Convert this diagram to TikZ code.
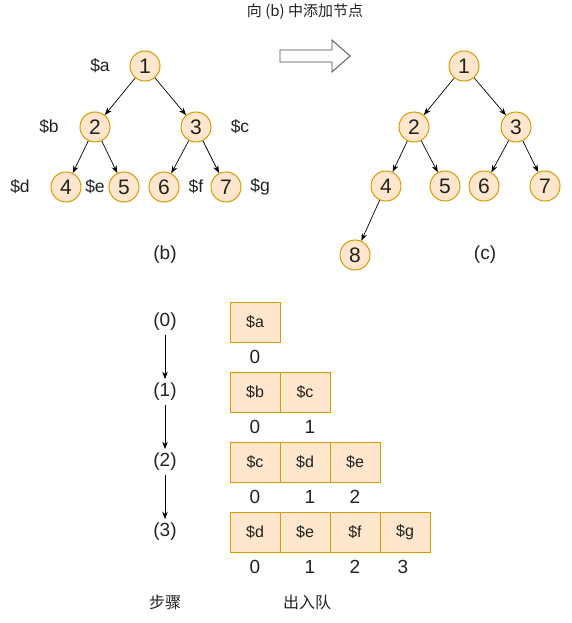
\documentclass[tikz,border=0pt]{standalone}
\usepackage{fontspec}
\setmainfont{Liberation Sans}
\newfontfamily\cjk{Noto Sans CJK SC}
\usetikzlibrary{arrows.meta,shapes.arrows}
\definecolor{nfill}{HTML}{FFE6CC}
\definecolor{nline}{HTML}{D79B00}
\definecolor{txt}{HTML}{222222}
\begin{document}
\begin{tikzpicture}[x=1pt,y=-1pt,
  tnode/.style={circle,draw=nline,fill=nfill,line width=1pt,minimum size=30pt,inner sep=0pt,font=\fontsize{21}{21}\selectfont,text=txt},
  lbl/.style={font=\fontsize{17.5}{17.5}\selectfont,text=txt,inner sep=0pt},
  captxt/.style={font=\fontsize{19}{19}\selectfont,text=txt,inner sep=0pt},
  stepl/.style={captxt,outer sep=4pt},
  qbox/.style={draw=nline,fill=nfill,line width=1pt,minimum width=50pt,minimum height=40pt,inner sep=0pt,font=\fontsize{16}{16}\selectfont,text=txt},
  idx/.style={font=\fontsize{19}{19}\selectfont,text=txt,inner sep=0pt},
  arr/.style={-{Stealth[length=7.5pt,width=5.5pt]},line width=0.7pt,black}]
\useasboundingbox (0,0) rectangle (572,623);
% title
\node[font=\cjk\fontsize{15}{15}\selectfont,text=txt] (title) at (305,12) {向 (b) 中添加节点};
% hollow arrow
\draw[line width=0.8pt,draw=black!70,fill=white] (280,50) -- (332,50) -- (332,40) -- (350,56) -- (332,72) -- (332,62) -- (280,62) -- cycle;
% tree (b)
\node[tnode] (b1) at (145,66) {1};
\node[tnode] (b2) at (95,127) {2};
\node[tnode] (b3) at (196,127) {3};
\node[tnode] (b4) at (66,187) {4};
\node[tnode] (b5) at (124,187) {5};
\node[tnode] (b6) at (164,187) {6};
\node[tnode] (b7) at (226,187) {7};
\draw[arr] (b1) -- (b2);
\draw[arr] (b1) -- (b3);
\draw[arr] (b2) -- (b4);
\draw[arr] (b2) -- (b5);
\draw[arr] (b3) -- (b6);
\draw[arr] (b3) -- (b7);
\node[lbl] (la) at (100,66) {\$a};
\node[lbl] (lb) at (49,127) {\$b};
\node[lbl] (lc) at (240,127) {\$c};
\node[lbl] (ld) at (20,187) {\$d};
\node[lbl] (le) at (95,187) {\$e};
\node[lbl] (lf) at (196,187) {\$f};
\node[lbl] (lg) at (260,187) {\$g};
\node[captxt] (capb) at (165,255) {(b)};
% tree (c)
\node[tnode] (c1) at (464,66) {1};
\node[tnode] (c2) at (414,127) {2};
\node[tnode] (c3) at (516,127) {3};
\node[tnode] (c4) at (386,186) {4};
\node[tnode] (c5) at (445,186) {5};
\node[tnode] (c6) at (484,186) {6};
\node[tnode] (c7) at (545,186) {7};
\node[tnode] (c8) at (355,255) {8};
\draw[arr] (c1) -- (c2);
\draw[arr] (c1) -- (c3);
\draw[arr] (c2) -- (c4);
\draw[arr] (c2) -- (c5);
\draw[arr] (c3) -- (c6);
\draw[arr] (c3) -- (c7);
\draw[arr] (c4) -- (c8);
\node[captxt] (capc) at (485,255) {(c)};
% steps
\node[stepl] (s0) at (165,322) {(0)};
\node[stepl] (s1) at (165,392) {(1)};
\node[stepl] (s2) at (165,462) {(2)};
\node[stepl] (s3) at (165,532) {(3)};
\draw[arr] (s0) -- (s1);
\draw[arr] (s1) -- (s2);
\draw[arr] (s2) -- (s3);
% queues
\node[qbox] (q00) at (255,322) {\$a};
\node[qbox] (q10) at (255,392) {\$b};
\node[qbox] (q11) at (305,392) {\$c};
\node[qbox] (q20) at (255,462) {\$c};
\node[qbox] (q21) at (305,462) {\$d};
\node[qbox] (q22) at (355,462) {\$e};
\node[qbox] (q30) at (255,532) {\$d};
\node[qbox] (q31) at (305,532) {\$e};
\node[qbox] (q32) at (355,532) {\$f};
\node[qbox] (q33) at (405,532) {\$g};
\node[idx] (i00) at (255,357) {0};
\node[idx] (i10) at (255,427) {0};
\node[idx] (i11) at (310,427) {1};
\node[idx] (i20) at (255,497) {0};
\node[idx] (i21) at (310,497) {1};
\node[idx] (i22) at (355,497) {2};
\node[idx] (i30) at (255,567) {0};
\node[idx] (i31) at (310,567) {1};
\node[idx] (i32) at (355,567) {2};
\node[idx] (i33) at (403,567) {3};
\node[font=\cjk\fontsize{16}{16}\selectfont,text=txt] (bz) at (165,602) {步骤};
\node[font=\cjk\fontsize{16}{16}\selectfont,text=txt] (crd) at (307,602) {出入队};
\end{tikzpicture}
\end{document}
